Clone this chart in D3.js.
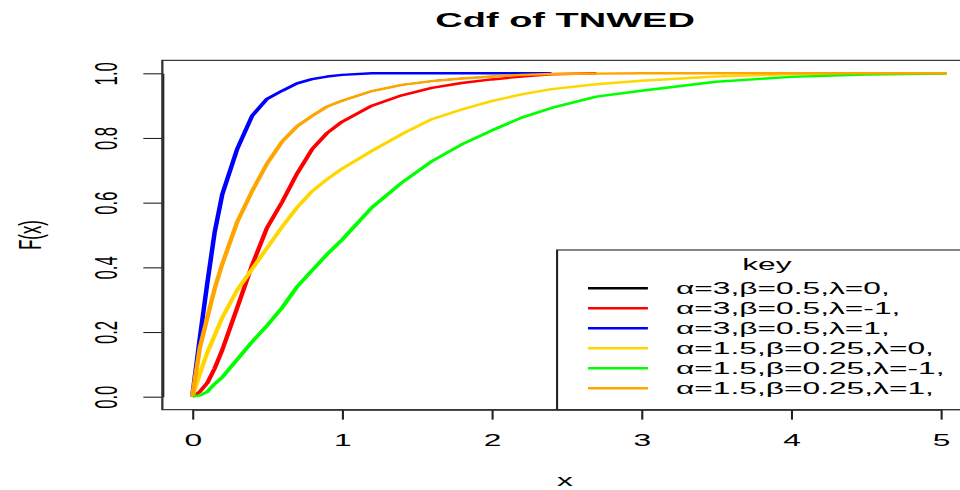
<!DOCTYPE html>
<html>
<head>
<meta charset="utf-8">
<script src="https://cdn.jsdelivr.net/npm/d3@7"></script>
<style>
body { margin: 0; background: #fff; }
svg { display: block; }
text { font-family: "Liberation Sans", Arial, sans-serif; fill: #000; }
</style>
</head>
<body>
<svg width="960" height="490"></svg>
<script>
// values (F(x) for each curve at the xs grid)
var xs       = [0, 0.05, 0.1, 0.15, 0.2, 0.3, 0.4, 0.5, 0.6, 0.7, 0.8, 0.9, 1.0, 1.2, 1.4, 1.6, 1.8, 2.0, 2.2, 2.4, 2.7, 3.0, 3.5, 4.0, 4.5, 5.04]
var black_f  = [0, 0.15, 0.244, 0.335, 0.41, 0.54, 0.636, 0.721, 0.789, 0.836, 0.868, 0.897, 0.915, 0.945, 0.964, 0.976, 0.984, 0.990, 0.995, 0.998, 0.999, null, null, null, null, null]
var red_f    = [0, 0.015, 0.042, 0.088, 0.144, 0.275, 0.407, 0.523, 0.602, 0.69, 0.765, 0.815, 0.85, 0.9, 0.932, 0.955, 0.97, 0.981, 0.99, 0.997, 1.0, null, null, null, null, null]
var blue_f   = [0, 0.18, 0.35, 0.51, 0.625, 0.766, 0.869, 0.921, 0.946, 0.969, 0.982, 0.990, 0.995, 1, 1, 1, 1, 1, 1, 1, null, null, null, null, null, null]
var gold_f   = [0, 0.07, 0.136, 0.19, 0.244, 0.33, 0.395, 0.46, 0.525, 0.585, 0.635, 0.672, 0.705, 0.76, 0.812, 0.858, 0.888, 0.914, 0.935, 0.951, 0.966, 0.977, 0.99, 0.997, 1, 1]
var green_f  = [0, 0.004, 0.015, 0.04, 0.06, 0.115, 0.17, 0.22, 0.275, 0.34, 0.39, 0.44, 0.485, 0.585, 0.662, 0.728, 0.78, 0.823, 0.863, 0.893, 0.928, 0.946, 0.974, 0.989, 0.996, 0.999]
var orange_f = [0, 0.15, 0.244, 0.335, 0.41, 0.54, 0.636, 0.721, 0.789, 0.836, 0.868, 0.897, 0.915, 0.945, 0.964, 0.976, 0.984, 0.990, 0.995, 0.998, 0.999, 1, 1, 1, 1, 1]

var series_values = [black_f, red_f, blue_f, gold_f, green_f, orange_f]
var series_colors = ['#000000', '#ff0000', '#0000ff', '#ffd700', '#00ff00', '#ffa500']
var series_labels = ['\u03b1=3,\u03b2=0.5,\u03bb=0,', '\u03b1=3,\u03b2=0.5,\u03bb=-1,', '\u03b1=3,\u03b2=0.5,\u03bb=1,',
                     '\u03b1=1.5,\u03b2=0.25,\u03bb=0,', '\u03b1=1.5,\u03b2=0.25,\u03bb=-1,', '\u03b1=1.5,\u03b2=0.25,\u03bb=1,']
var x_ticks = [0, 1, 2, 3, 4, 5]
var y_ticks = [0, 0.2, 0.4, 0.6, 0.8, 1.0]

// the picture is stretched sideways, so draw in narrow units and scale the group
var stretch = 1.9
var fs = 16.7

var svg = d3.select('svg')
var g = svg.append('g').attr('transform', 'scale(' + stretch + ',1)')

var x = d3.scaleLinear().domain([0, 5]).range([101.2, 495.1])
var y = d3.scaleLinear().domain([0, 1]).range([396.7, 73.3])

var left = x(-0.2), right = x(5.24)
var top_ = y(1.04), bottom = y(-0.04)

g.append('clipPath').attr('id', 'plotclip')
  .append('rect')
  .attr('x', left).attr('y', top_)
  .attr('width', right - left).attr('height', bottom - top_)

// curves (black one sits under the orange one, as in the picture)
var line = d3.line()
  .defined(function(d){ return d[1] !== null })
  .x(function(d){ return x(d[0]) })
  .y(function(d){ return y(d[1]) })

var curves = g.append('g').attr('clip-path', 'url(#plotclip)')
series_values.forEach(function(vals, i){
  var pts = xs.map(function(v, j){ return [v, vals[j]] })
  curves.append('path')
    .attr('d', line(pts))
    .attr('fill', 'none')
    .attr('stroke', series_colors[i])
    .attr('stroke-width', i === 0 ? 1.4 : 2.4)
    .attr('stroke-linejoin', 'round')
})

// axes
var xAxis = g.append('g')
  .attr('transform', 'translate(0,' + bottom + ')')
  .call(d3.axisBottom(x).tickValues(x_ticks).tickSize(10).tickSizeOuter(0).tickFormat(d3.format('d')))
xAxis.selectAll('text')
  .attr('y', 30).attr('dy', null)
  .attr('dominant-baseline', 'central')
  .style('font-size', fs + 'px')
  .style('font-family', '"Liberation Sans", Arial, sans-serif')

var yAxis = g.append('g')
  .attr('transform', 'translate(' + left + ',0)')
  .call(d3.axisLeft(y).tickValues(y_ticks).tickSize(10).tickSizeOuter(0).tickFormat(d3.format('.1f')))
yAxis.selectAll('text')
  .attr('x', null).attr('dy', null)
  .attr('transform', 'translate(-30,0) rotate(-90)')
  .attr('text-anchor', 'middle')
  .attr('dominant-baseline', 'central')
  .style('font-size', fs + 'px')
  .style('font-family', '"Liberation Sans", Arial, sans-serif')

g.selectAll('.domain, .tick line').attr('stroke', '#222').attr('stroke-width', 1.1)

// legend, bottom right
var lg = g.append('g')
var lgLeft = 293.2, lgTop = 250
lg.append('rect')
  .attr('x', lgLeft).attr('y', lgTop)
  .attr('width', right - lgLeft).attr('height', bottom - lgTop)
  .attr('fill', '#fff').attr('stroke', '#222').attr('stroke-width', 1.1)
lg.append('text')
  .attr('x', (lgLeft + right) / 2).attr('y', 264)
  .attr('text-anchor', 'middle').attr('dominant-baseline', 'central')
  .style('font-size', fs + 'px')
  .text('key')
series_labels.forEach(function(lab, i){
  var ry = 288.3 + i * 20
  lg.append('line')
    .attr('x1', 309.5).attr('x2', 341)
    .attr('y1', ry).attr('y2', ry)
    .attr('stroke', series_colors[i]).attr('stroke-width', 2.4)
  lg.append('text')
    .attr('x', 355.8).attr('y', ry)
    .attr('dominant-baseline', 'central')
    .style('font-size', fs + 'px')
    .text(lab)
})

// plot box
g.append('rect')
  .attr('x', left).attr('y', top_)
  .attr('width', right - left).attr('height', bottom - top_)
  .attr('fill', 'none').attr('stroke', '#333').attr('stroke-width', 1.2)

// titles
g.append('text')
  .attr('x', 297.4).attr('y', 20)
  .attr('text-anchor', 'middle').attr('dominant-baseline', 'central')
  .style('font-size', '20px').style('font-weight', 'bold')
  .text('Cdf of TNWED')

g.append('text')
  .attr('x', 297.4).attr('y', 480)
  .attr('text-anchor', 'middle').attr('dominant-baseline', 'central')
  .style('font-size', fs + 'px')
  .text('x')

g.append('text')
  .attr('transform', 'translate(15.5,235) rotate(-90)')
  .attr('text-anchor', 'middle').attr('dominant-baseline', 'central')
  .style('font-size', fs + 'px')
  .text('F(x)')
</script>
</body>
</html>
